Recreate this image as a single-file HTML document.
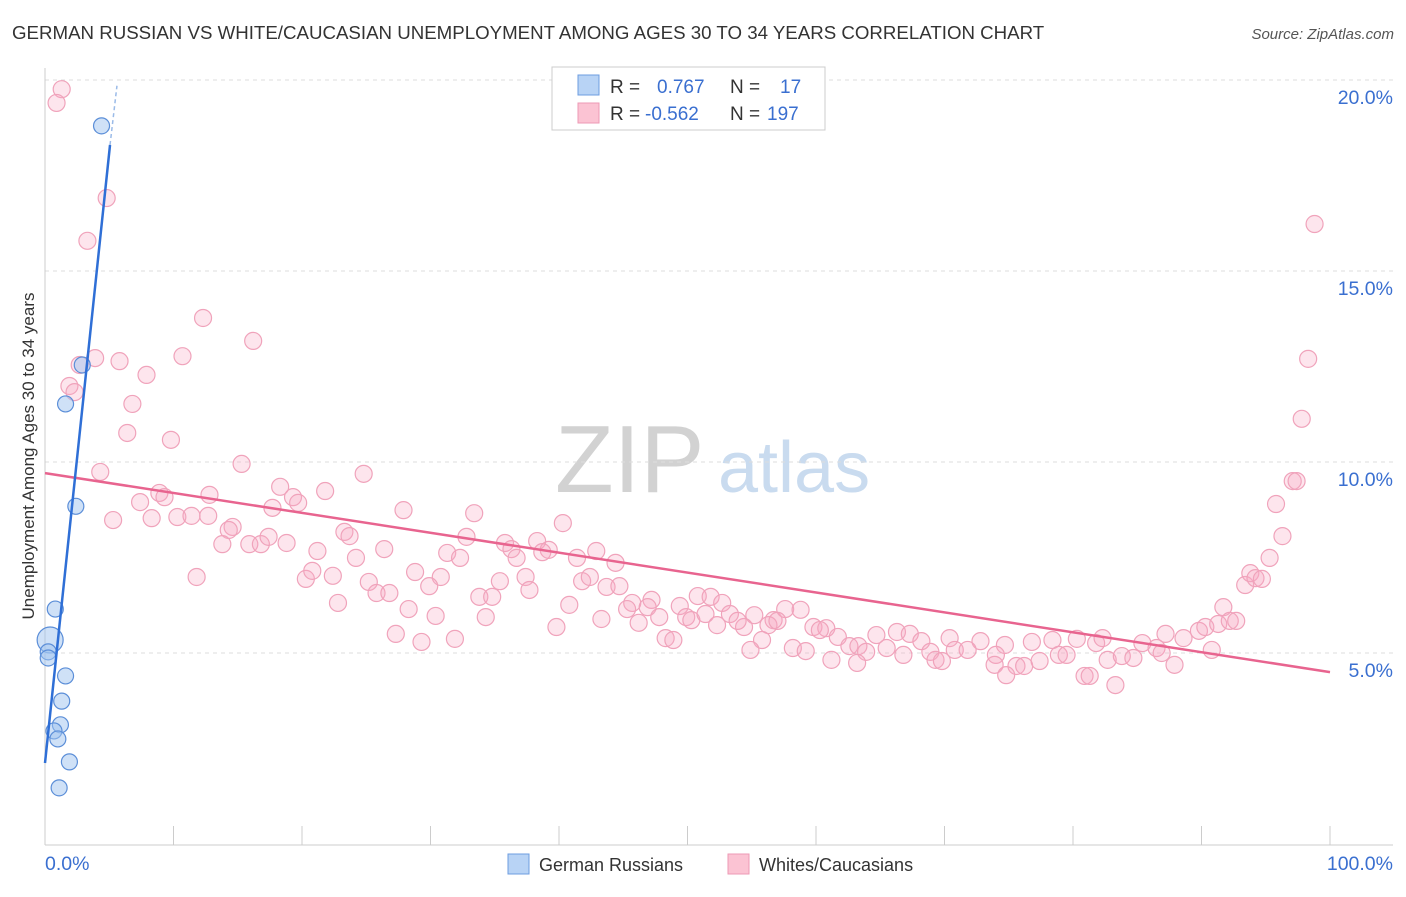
<!DOCTYPE html>
<html><head><meta charset="utf-8"><style>
body{margin:0;background:#fff;font-family:"Liberation Sans",sans-serif;}
svg text{font-family:"Liberation Sans",sans-serif;}
</style></head><body>
<svg id="chart" width="1406" height="892" xmlns="http://www.w3.org/2000/svg">
<text x="12" y="39" font-size="18.7" fill="#333">GERMAN RUSSIAN VS WHITE/CAUCASIAN UNEMPLOYMENT AMONG AGES 30 TO 34 YEARS CORRELATION CHART</text>
<text x="1394" y="39" font-size="15" fill="#555" text-anchor="end" font-style="italic">Source: ZipAtlas.com</text>
<text transform="translate(34,456) rotate(-90)" font-size="17" fill="#333" text-anchor="middle">Unemployment Among Ages 30 to 34 years</text>
<g>
<text x="555" y="492" font-size="96" fill="#d2d2d2" font-family="Liberation Serif,serif">ZIP</text>
<text x="718" y="492" font-size="72" fill="#c9dbef">atlas</text>
</g>
<g id="grid"></g><g id="pts"></g><g id="lines"></g>
<g>
<rect x="552" y="67" width="273" height="63" fill="#fff" stroke="#ccc"/>
<rect x="578" y="75" width="21" height="20" fill="#b8d3f5" stroke="#6d9de0"/>
<rect x="578" y="103" width="21" height="20" fill="#fbc3d3" stroke="#ee9ab5"/>
<text x="610" y="93" font-size="19" fill="#333">R =</text><text x="657" y="93" font-size="19" fill="#3a6fd0">0.767</text>
<text x="730" y="93" font-size="19" fill="#333">N =</text><text x="780" y="93" font-size="19" fill="#3a6fd0">17</text>
<text x="610" y="120" font-size="19" fill="#333">R =</text><text x="645" y="120" font-size="19" fill="#3a6fd0">-0.562</text>
<text x="730" y="120" font-size="19" fill="#333">N =</text><text x="767" y="120" font-size="19" fill="#3a6fd0">197</text>
</g>
<g>
<rect x="508" y="854" width="21" height="20" fill="#b8d3f5" stroke="#6d9de0"/>
<text x="539" y="871" font-size="18" fill="#333">German Russians</text>
<rect x="728" y="854" width="21" height="20" fill="#fbc3d3" stroke="#ee9ab5"/>
<text x="759" y="871" font-size="18" fill="#333">Whites/Caucasians</text>
</g>
</svg>
<script>
const yTicks=[5,10,15,20];
const xTickLabels=["0.0%","100.0%"];
const blueX=[4.4,2.9,1.6,2.4,0.8,0.4,0.25,0.25,1.6,1.3,1.2,0.7,1.0,1.9,1.1];
const blueY=[18.8,12.54,11.52,8.84,6.15,5.34,5.03,4.87,4.40,3.74,3.12,2.96,2.75,2.15,1.47];
const blueR=[8,8,8,8,8,13,8,8,8,8,8,8,8,8,8];
const pinkX=[1.3,0.9,4.8,3.3,12.3,16.2,3.9,10.7,5.8,2.7,7.9,1.9,2.3,6.8,6.4,9.8,15.3,4.3,24.8,18.3,21.8,12.8,8.9,7.4,9.3,19.3,19.7,5.3,8.3,10.3,11.4,12.7,14.6,14.3,17.7,27.9,33.4,40.3,13.8,15.9,16.8,17.4,18.8,23.3,23.7,21.2,24.2,26.4,32.8,35.8,38.3,36.3,31.3,32.3,36.7,39.2,38.7,41.4,42.9,44.4,11.8,20.3,20.8,22.4,28.8,30.8,25.2,25.8,26.8,29.9,35.4,37.4,37.7,41.8,42.4,43.7,44.7,22.8,28.3,33.8,34.8,40.8,45.7,47.2,46.9,45.3,50.8,51.8,52.7,49.4,30.4,34.3,43.3,47.8,49.9,50.3,51.4,53.3,55.2,56.7,57.6,58.8,39.8,46.2,52.3,54.4,53.9,56.3,57.0,59.8,60.8,60.3,27.3,29.3,31.9,48.3,48.9,55.8,61.7,62.6,64.7,66.3,67.3,68.2,70.4,72.8,74.7,54.9,58.2,59.2,63.3,63.9,65.5,66.8,68.9,70.8,71.8,74.0,76.8,78.4,78.9,80.3,81.8,82.3,85.4,86.5,87.2,88.6,89.8,90.3,91.3,91.7,92.2,92.7,90.8,61.2,63.2,69.3,69.8,73.9,75.6,74.8,76.2,77.4,79.5,80.9,81.3,82.7,83.3,83.8,84.7,86.9,87.9,93.4,93.8,94.2,94.7,95.3,96.3,95.8,97.1,97.4,97.8,98.3,98.8];
const pinkY=[19.76,19.40,16.91,15.79,13.77,13.17,12.72,12.77,12.64,12.54,12.28,11.99,11.83,11.52,10.76,10.58,9.95,9.74,9.69,9.35,9.24,9.14,9.19,8.95,9.08,9.08,8.93,8.48,8.53,8.56,8.59,8.59,8.30,8.22,8.80,8.74,8.66,8.40,7.85,7.85,7.85,8.04,7.88,8.17,8.06,7.67,7.49,7.72,8.04,7.88,7.93,7.72,7.62,7.49,7.49,7.70,7.64,7.49,7.67,7.36,6.99,6.94,7.15,7.02,7.12,6.99,6.86,6.57,6.57,6.75,6.88,6.99,6.65,6.88,6.99,6.73,6.75,6.31,6.15,6.47,6.47,6.26,6.31,6.39,6.20,6.15,6.49,6.47,6.31,6.23,5.97,5.94,5.89,5.94,5.94,5.86,6.02,6.02,5.99,5.86,6.15,6.13,5.68,5.79,5.73,5.68,5.84,5.73,5.84,5.68,5.65,5.60,5.50,5.29,5.37,5.39,5.34,5.34,5.42,5.18,5.47,5.55,5.50,5.31,5.39,5.31,5.21,5.08,5.13,5.05,5.18,5.03,5.13,4.95,5.03,5.08,5.08,4.95,5.29,5.34,4.95,5.37,5.26,5.39,5.26,5.13,5.50,5.39,5.58,5.68,5.76,6.20,5.84,5.84,5.08,4.82,4.74,4.82,4.79,4.69,4.66,4.42,4.66,4.79,4.95,4.40,4.40,4.82,4.16,4.92,4.87,5.00,4.69,6.78,7.09,6.96,6.94,7.49,8.06,8.90,9.50,9.50,11.13,12.70,16.23];
const pinkTrend=[[0,9.71],[100,4.5]];
const blueTrend=[[0,2.12],[5.06,18.3]];
const blueDash=[[5.06,18.3],[5.6,19.85]];
const X=v=>45+v*12.85, Y=v=>844-v*38.2;
const NS="http://www.w3.org/2000/svg";
function mk(t,a,p){const e=document.createElementNS(NS,t);for(const k in a)e.setAttribute(k,a[k]);p.appendChild(e);return e;}
const g=document.getElementById('grid');
yTicks.forEach(t=>{const l=mk('line',{x1:45,x2:1393,y1:Y(t),y2:Y(t),stroke:'#ddd','stroke-dasharray':'4,4'},g);


const tx=mk('text',{x:1393,y:Y(t)+24,'font-size':19.5,fill:'#3a6fd0','text-anchor':'end'},g);tx.textContent=t.toFixed(1)+'%';

});
const ax=mk('line',{x1:45,x2:1393,y1:845,y2:845,stroke:'#ccc'},g);


const ay=mk('line',{x1:45,x2:45,y1:68,y2:845,stroke:'#ccc'},g);


for(let i=0;i<=10;i++){const t=mk('line',{x1:X(i*10),x2:X(i*10),y1:826,y2:845,stroke:'#ccc'},g);

}
[[0,'start',45],[100,'end',1393]].forEach((d,i)=>{const t=mk('text',{x:d[2],y:870,'font-size':19.5,fill:'#3a6fd0','text-anchor':d[1]},g);t.textContent=xTickLabels[i];

});
const p=document.getElementById('pts');
pinkX.forEach((x,i)=>{const c=mk('circle',{cx:X(x),cy:Y(pinkY[i]),r:8.5,fill:'rgba(248,170,195,0.3)',stroke:'#f0a3bb','stroke-width':1.2},p);

});
blueX.forEach((x,i)=>{const c=mk('circle',{cx:X(x),cy:Y(blueY[i]),r:blueR[i],fill:'rgba(160,195,240,0.5)',stroke:'#5b8ed8','stroke-width':1.2},p);

});
const L=document.getElementById('lines');
const a=mk('line',{x1:X(pinkTrend[0][0]),y1:Y(pinkTrend[0][1]),x2:X(pinkTrend[1][0]),y2:Y(pinkTrend[1][1]),stroke:'#e8648f','stroke-width':2.5},L);


const b=mk('line',{x1:X(blueTrend[0][0]),y1:Y(blueTrend[0][1]),x2:X(blueTrend[1][0]),y2:Y(blueTrend[1][1]),stroke:'#2f6fd6','stroke-width':2.5},L);


const d=mk('line',{x1:X(blueDash[0][0]),y1:Y(blueDash[0][1]),x2:X(blueDash[1][0]),y2:Y(blueDash[1][1]),stroke:'#9bbbe8','stroke-width':1.5,'stroke-dasharray':'4,3'},L);


</script>
</body></html>
